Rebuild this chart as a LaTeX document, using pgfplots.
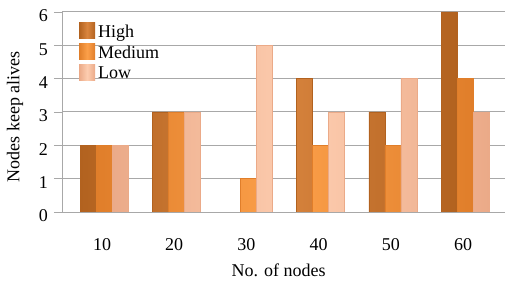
\documentclass[border=0pt]{standalone}
\usepackage{fontspec}
\setmainfont{Liberation Serif}
\usepackage{pgfplots}
\pgfplotsset{compat=1.18}
\definecolor{hiL}{HTML}{DA8640}
\definecolor{hiD}{HTML}{B2621F}
\definecolor{meL}{HTML}{FCA04A}
\definecolor{meD}{HTML}{E07E2A}
\definecolor{loL}{HTML}{FDCDB0}
\definecolor{loD}{HTML}{EBAA88}
\definecolor{gridc}{HTML}{A8A8A8}
\begin{document}
\fontsize{18bp}{21bp}\selectfont
\begin{tikzpicture}
\path[use as bounding box] (0,0) rectangle (509bp,283bp);
\begin{axis}[
  at={(62bp,71bp)}, anchor=south west,
  scale only axis, width=443bp, height=200bp,
  ybar=0pt, bar width=16bp,
  xmin=-0.582, xmax=5.554, ymin=0, ymax=6,
  xtick={0,1,2,3,4,5}, xticklabels={10,20,30,40,50,60},
  ytick={0,1,2,3,4,5,6},
  /pgf/number format/assume math mode=true,
  axis x line*=bottom, axis y line*=left,
  axis line style={gridc, line width=0.8bp, -},
  x axis line style={draw=none},
  major x tick style={draw=none},
  y tick style={gridc, line width=0.8bp},
  tick align=outside, major tick length=8bp,
  ymajorgrids, grid style={gridc, line width=1bp},
  xticklabel style={yshift=-12bp, xshift=-2bp},
  yticklabel style={yshift=-4bp},
  ticklabel style={font=\fontsize{18bp}{21bp}\selectfont},
  xlabel={No. of nodes}, ylabel={Nodes keep alives},
  every axis x label/.style={at={(axis description cs:0.489,-0.29)}, anchor=center},
  every axis y label/.style={at={(axis description cs:-0.106,0.477)}, rotate=90, anchor=center},
  legend style={at={(axis description cs:0.036,0.955)}, anchor=north west, draw=none, fill=none,
    font=\fontsize{18bp}{20bp}\selectfont, row sep=1.5bp, inner sep=1bp,
    nodes={inner xsep=3bp}},
  legend cell align=left,
  legend image code/.code={\path[#1,draw=none] (0bp,-6bp) rectangle (16bp,10bp);},
]
\addplot[draw=hiD, line width=0.5bp, left color=hiD, right color=hiD, middle color=hiL] coordinates {(0,2) (1,3) (2,0) (3,4) (4,3) (5,6)};
\addplot[draw=meD, line width=0.5bp, left color=meD, right color=meD, middle color=meL] coordinates {(0,2) (1,3) (2,1) (3,2) (4,2) (5,4)};
\addplot[draw=loD, line width=0.5bp, left color=loD, right color=loD, middle color=loL] coordinates {(0,2) (1,3) (2,5) (3,3) (4,4) (5,3)};
\legend{High, Medium, Low}
\end{axis}
\end{tikzpicture}
\end{document}
